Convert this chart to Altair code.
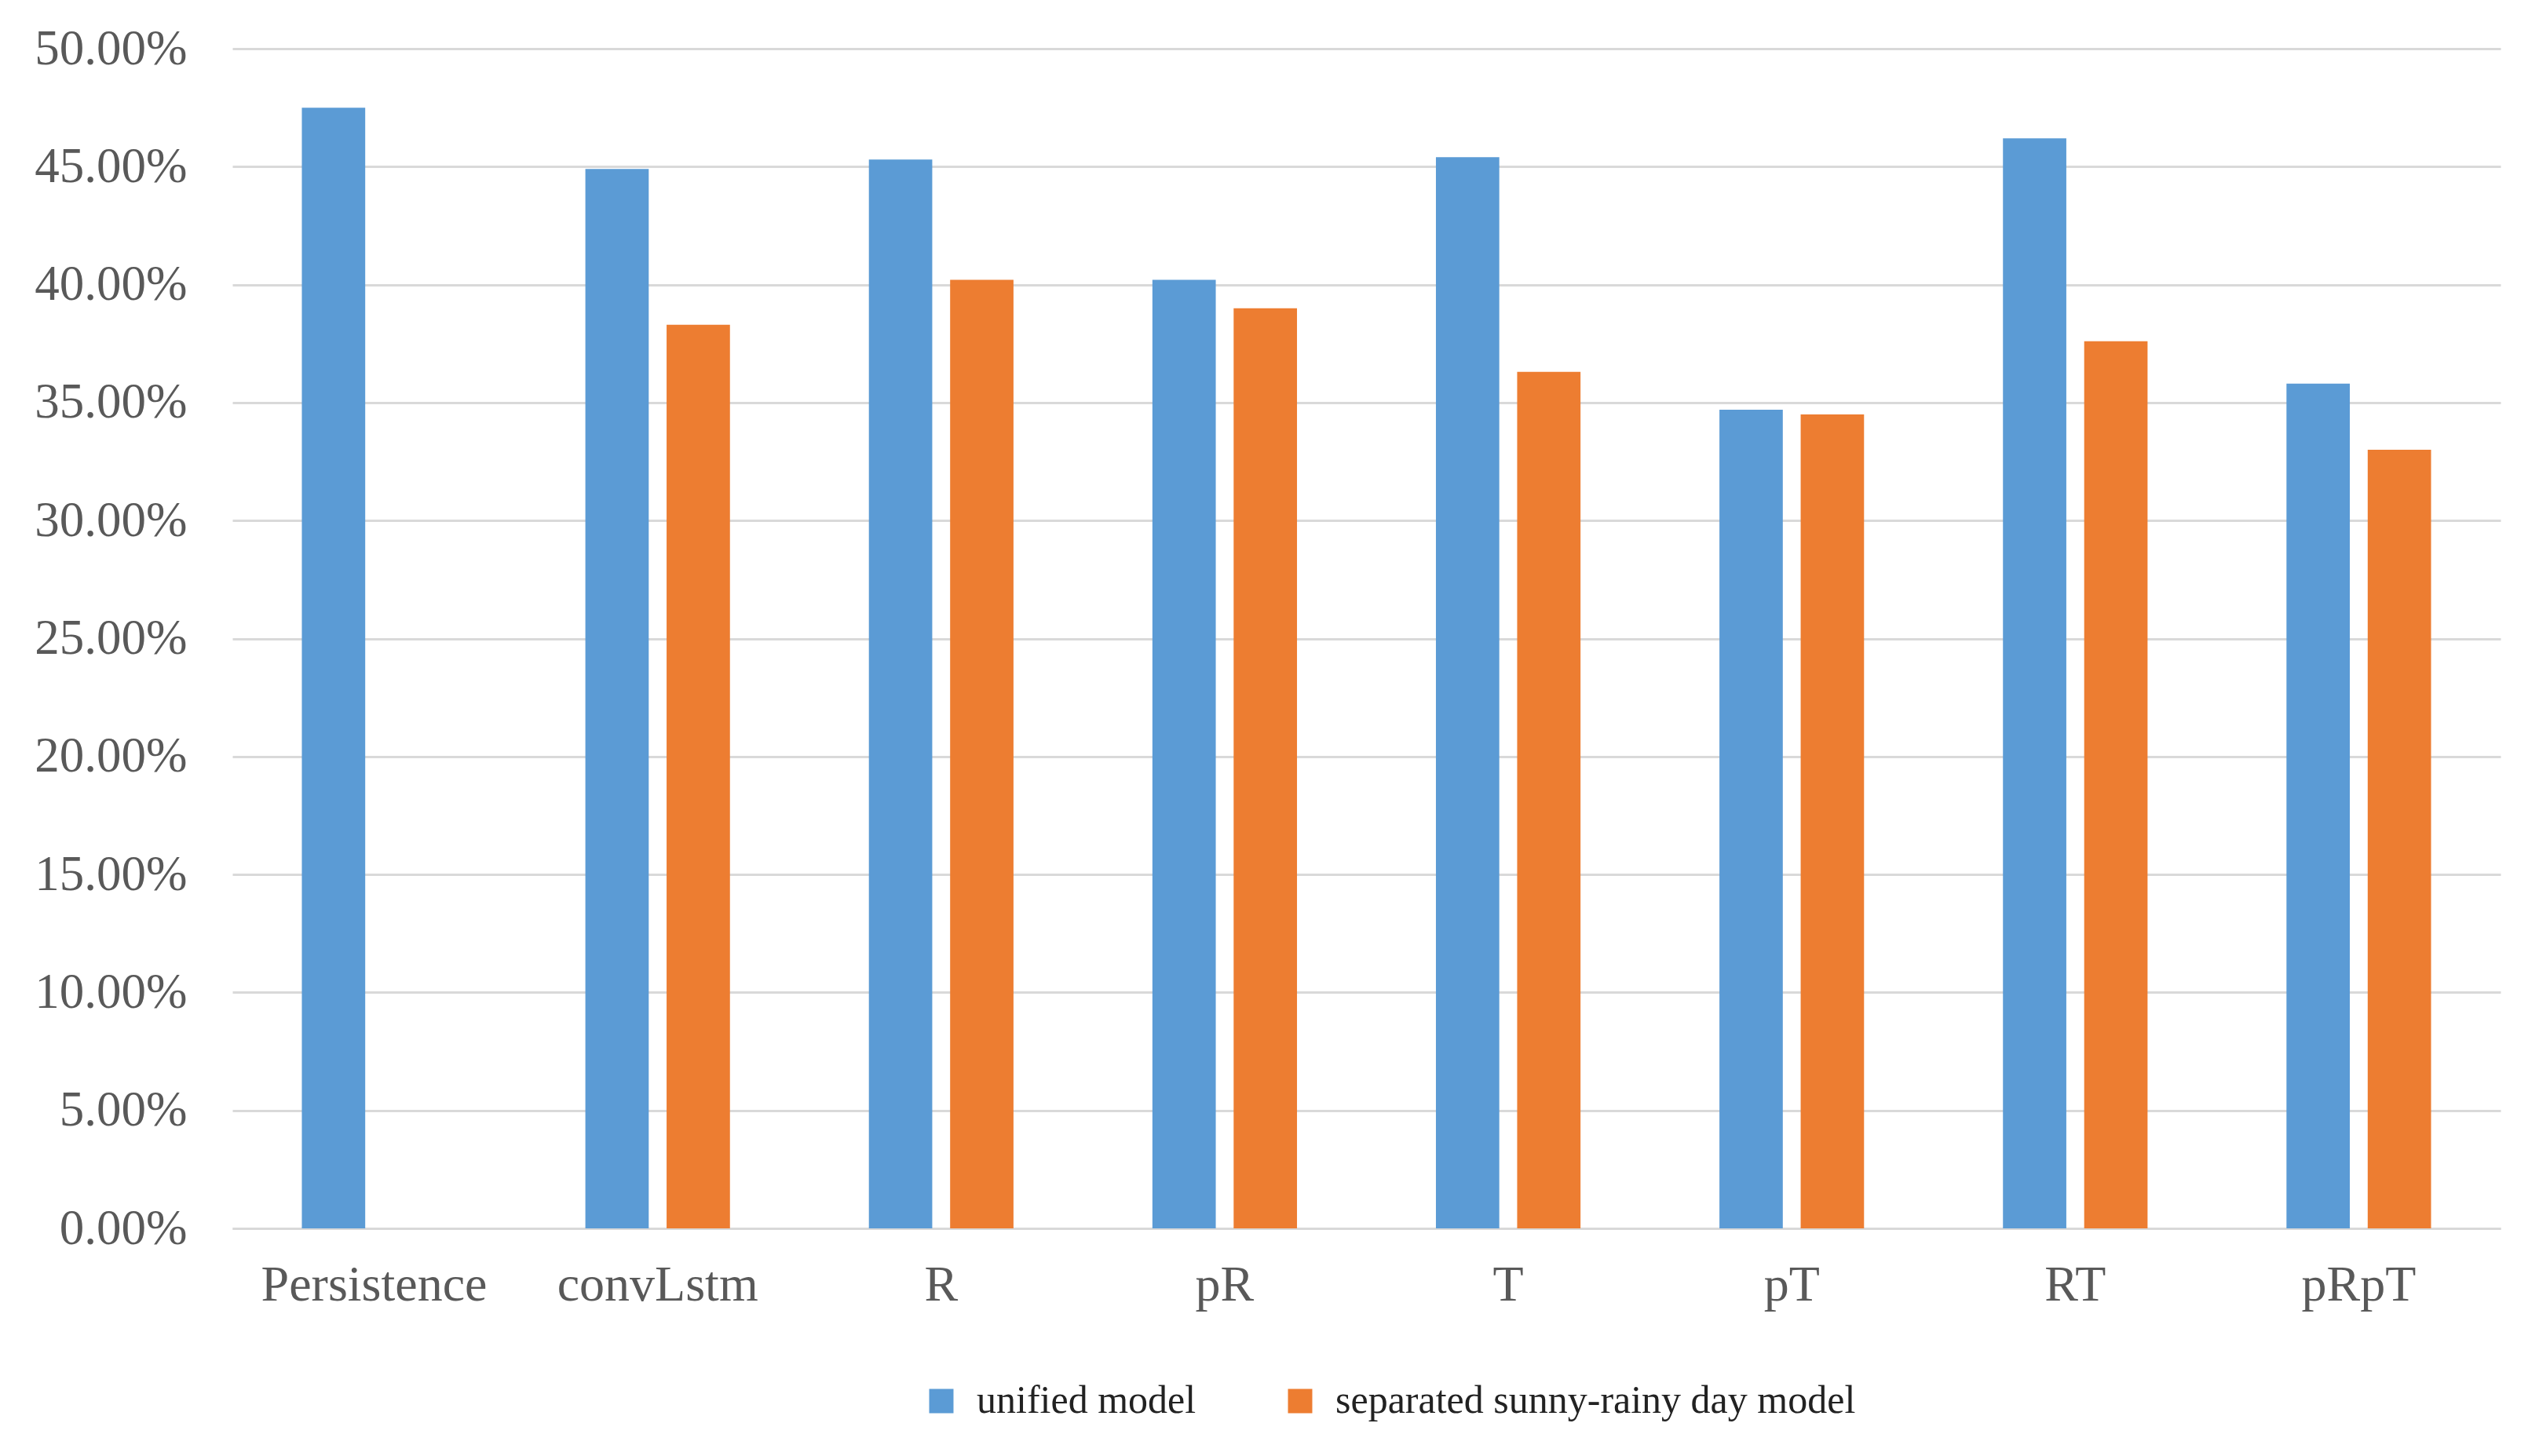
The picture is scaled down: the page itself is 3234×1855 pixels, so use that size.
import altair as alt
import pandas as pd

categories = ["Persistence", "convLstm", "R", "pR", "T", "pT", "RT", "pRpT"]
series = ["unified model", "separated sunny-rainy day model"]
unified = [0.475, 0.449, 0.453, 0.402, 0.454, 0.347, 0.462, 0.358]
separated = [None, 0.383, 0.402, 0.390, 0.363, 0.345, 0.376, 0.330]
y_ticks = [0.0, 0.05, 0.10, 0.15, 0.20, 0.25, 0.30, 0.35, 0.40, 0.45, 0.50]
colors = ["#5B9BD5", "#ED7D31"]

rows = []
for c, u, s in zip(categories, unified, separated):
    rows.append({"cat": c, "series": series[0], "value": u})
    if s is not None:
        rows.append({"cat": c, "series": series[1], "value": s})
df = pd.DataFrame(rows)

FONT = "Liberation Serif"

chart = alt.Chart(df).mark_bar().encode(
    x=alt.X(
        "cat:N",
        sort=categories,
        scale=alt.Scale(paddingInner=0.49, paddingOuter=0.245),
        axis=alt.Axis(
            title=None, labelAngle=0, ticks=False, domain=True,
            domainColor="#d9d9d9", domainWidth=3, grid=False,
            labelFont=FONT, labelFontSize=64, labelColor="#595959",
            labelPadding=40, labelLimit=2000,
        ),
    ),
    xOffset=alt.XOffset(
        "series:N", sort=series,
        scale=alt.Scale(domain=series, paddingInner=0.22, paddingOuter=0),
    ),
    y=alt.Y(
        "value:Q",
        scale=alt.Scale(domain=[0, 0.5], nice=False),
        axis=alt.Axis(
            title=None, format=".2%", values=y_ticks, ticks=False, domain=False,
            gridColor="#d9d9d9", gridWidth=3,
            labelFont=FONT, labelFontSize=63, labelColor="#595959",
            labelPadding=58, labelLimit=2000,
        ),
    ),
    color=alt.Color(
        "series:N",
        sort=series,
        scale=alt.Scale(domain=series, range=colors),
        legend=alt.Legend(
            title=None, orient="none", legendX=878, legendY=1698,
            direction="horizontal", symbolType="square", symbolSize=960,
            symbolStrokeWidth=0, labelFont=FONT, labelFontSize=50,
            labelColor="#222222", labelLimit=2000, labelOffset=20,
            columnPadding=107,
        ),
    ),
).properties(
    width=2889,
    height=1503,
    autosize=alt.AutoSizeParams(type="none"),
    padding={"left": 288, "top": 54, "right": 20, "bottom": 270},
).configure(background="white").configure_view(stroke=None)

chart.save("out.html", embed_options={"renderer": "svg", "actions": False})
